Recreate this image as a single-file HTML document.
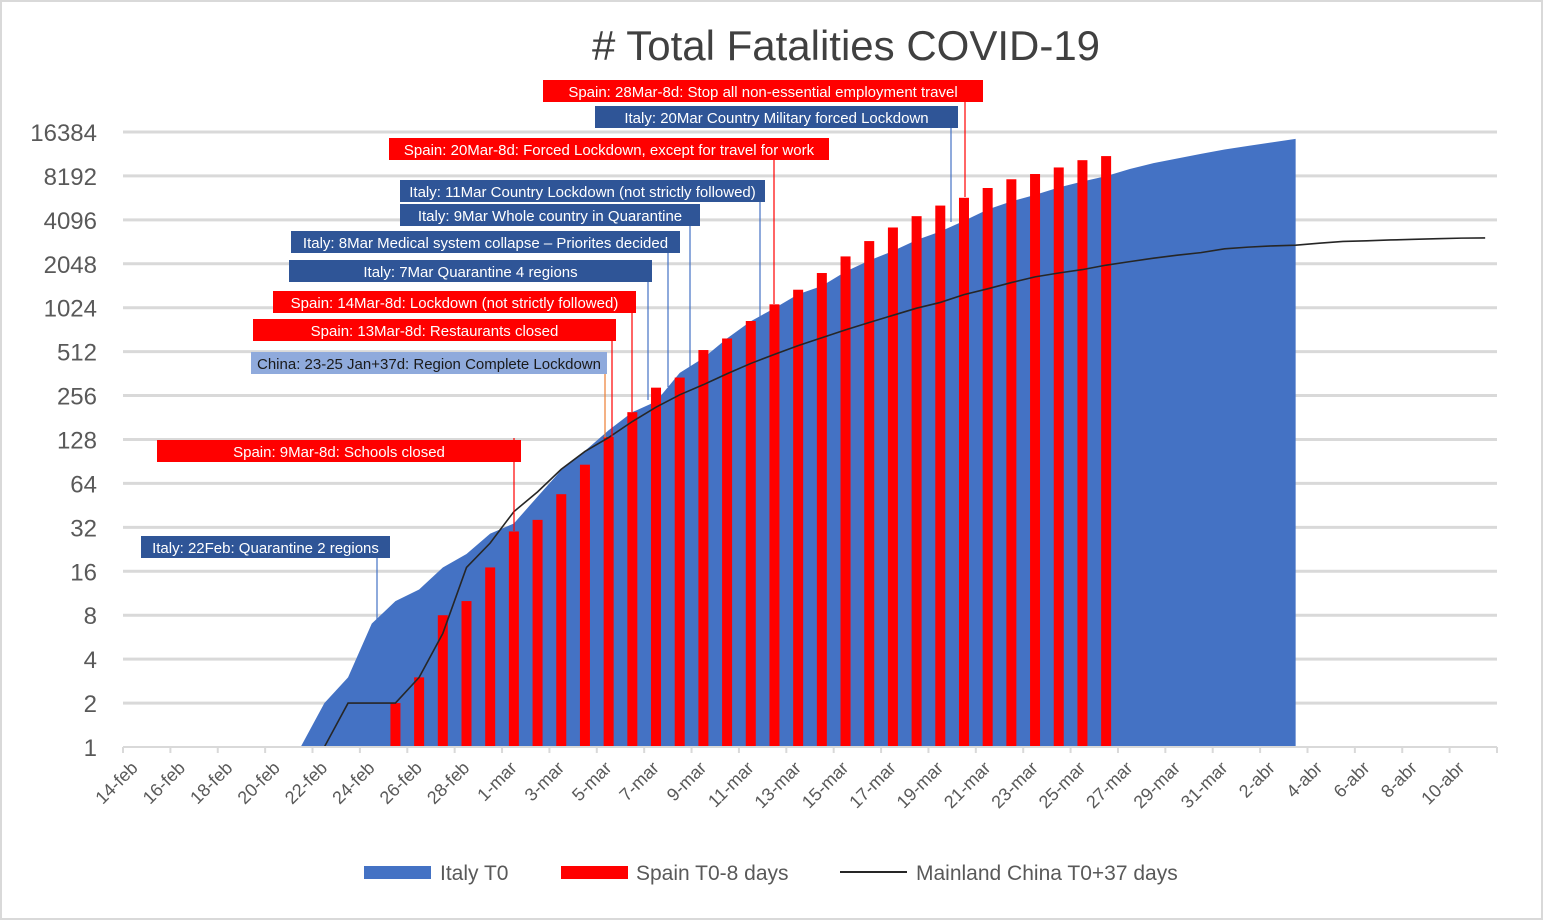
<!DOCTYPE html>
<html><head><meta charset="utf-8"><style>
body{margin:0;background:#fff;}
svg{display:block;font-family:"Liberation Sans",sans-serif;}
</style></head><body>
<svg id="c" width="1544" height="921" viewBox="0 0 1544 921">
<rect x="1" y="1" width="1541" height="918" fill="#fff" stroke="#d9d9d9" stroke-width="2"/>
<text x="846" y="60" text-anchor="middle" font-size="42" fill="#404040"># Total Fatalities COVID-19</text>
<g id="grid"></g><g id="marks"></g><g id="axes"></g><g id="ann"></g>
<g>
<g><rect x="364" y="866" width="67" height="13" fill="#4472c4"/><text x="440" y="880" font-size="21" fill="#595959">Italy T0</text></g>
<g><rect x="561" y="866" width="67" height="13" fill="#ff0000"/><text x="636" y="880" font-size="21" fill="#595959">Spain T0-8 days</text></g>
<g><line x1="840" y1="872" x2="907" y2="872" stroke="#262626" stroke-width="2"/><text x="916" y="880" font-size="21" fill="#595959">Mainland China T0+37 days</text></g>
</g>
</svg>
<script>
const NS="http://www.w3.org/2000/svg";
const categories=[];
(function(){const m=[["feb",14,29],["mar",1,31],["abr",1,11]];for(const[n,a,b]of m)for(let d=a;d<=b;d++)categories.push(d+"-"+n);})();
const yTicks=[1,2,4,8,16,32,64,128,256,512,1024,2048,4096,8192,16384];
const italyStart=7;
const italyValues=[1,2,3,7,10,12,17,21,29,34,52,79,107,148,197,233,366,463,631,827,1016,1266,1441,1809,2158,2503,2978,3405,4032,4825,5476,6077,6820,7503,8165,9134,10023,10779,11591,12428,13155,13915,14681];
const spainStart=11;
const spainValues=[2,3,8,10,17,30,36,54,86,133,197,290,340,525,630,830,1080,1360,1770,2300,2930,3630,4340,5130,5800,6770,7770,8440,9360,10500,11200];
const chinaStart=3;
const chinaValues=[1,1,1,1,1,1,2,2,2,3,6,17,25,41,56,80,106,132,170,213,259,304,361,425,490,563,637,722,811,908,1016,1113,1259,1380,1523,1665,1770,1868,2004,2118,2236,2345,2442,2592,2663,2715,2744,2835,2912,2943,2981,3012,3042,3070,3080];

const X0=123,X1=1497,Y0=747,PX=43.93;
const bw=(X1-X0)/categories.length;
const xs=i=>X0+(i+0.5)*bw;
const ys=v=>Y0-Math.log2(v)*PX;
function mk(t,a,p){const e=document.createElementNS(NS,t);for(const k in a)e.setAttribute(k,a[k]);p.appendChild(e);return e;}
const grid=document.getElementById('grid'),marks=document.getElementById('marks'),axes=document.getElementById('axes');
yTicks.forEach(v=>{
 const y=ys(v);
 if(v>1){const l=mk('line',{x1:X0,x2:X1,y1:y,y2:y,stroke:'#d9d9d9','stroke-width':3},grid);
 
 }
 const t=mk('text',{x:97,y:y+9,'text-anchor':'end','font-size':24,fill:'#595959'},axes);t.textContent=v;
 
 
});
let pts=[];italyValues.forEach((v,k)=>pts.push(xs(italyStart+k)+','+ys(v)));
const last=italyStart+italyValues.length-1;
pts.push(xs(last)+','+Y0);pts.push(xs(italyStart)+','+Y0);
const area=mk('polygon',{points:pts.join(' '),fill:'#4472c4'},marks);


spainValues.forEach((v,k)=>{const i=spainStart+k;const y=ys(v);
 const r=mk('rect',{x:xs(i)-5,y:y,width:10,height:Y0-y,fill:'#ff0000'},marks);
 
 });
const cl=mk('polyline',{points:chinaValues.map((v,k)=>xs(chinaStart+k)+','+ys(v)).join(' '),fill:'none',stroke:'#262626','stroke-width':1.6},marks);


const ax=mk('line',{x1:X0,x2:X1,y1:Y0,y2:Y0,stroke:'#d9d9d9','stroke-width':2},axes);


for(let i=0;i<=categories.length;i+=2){mk('line',{x1:X0+i*bw,x2:X0+i*bw,y1:Y0,y2:Y0+6,stroke:'#d9d9d9','stroke-width':2},axes);}
categories.forEach((c,i)=>{if(i%2)return;const x=xs(i)+4,y=Y0+22;
 const t=mk('text',{x:x,y:y,'text-anchor':'end','font-size':18,fill:'#595959',transform:`rotate(-45 ${x} ${y})`},axes);t.textContent=c;
 
 });
const RED='#ff0000',BLU='#2f5597',LB='#8faadc';
const anns=[
["Spain: 28Mar-8d: Stop all non-essential employment travel",543,80,440,RED,'#fff',965,197,RED],
["Italy: 20Mar Country Military forced Lockdown",595,106,363,BLU,'#fff',951,222,'#4472c4'],
["Spain: 20Mar-8d: Forced Lockdown, except for travel for work",389,138,440,RED,'#fff',774,304,RED],
["Italy: 11Mar Country Lockdown (not strictly followed)",400,180,365,BLU,'#fff',760,325,'#4472c4'],
["Italy: 9Mar Whole country in Quarantine",400,204,300,BLU,'#fff',690,372,'#4472c4'],
["Italy: 8Mar Medical system collapse – Priorites  decided",291,231,389,BLU,'#fff',668,387,'#4472c4'],
["Italy: 7Mar Quarantine 4 regions",289,260,363,BLU,'#fff',648,400,'#4472c4'],
["Spain: 14Mar-8d: Lockdown (not strictly followed)",273,291,363,RED,'#fff',632,412,RED],
["Spain: 13Mar-8d: Restaurants closed",253,319,363,RED,'#fff',612,438,RED],
["China: 23-25 Jan+37d: Region Complete Lockdown",251,352,356,LB,'#1a1a1a',605,438,'#ed7d31'],
["Spain: 9Mar-8d: Schools closed",157,440,364,RED,'#fff',514,531,RED],
["Italy: 22Feb: Quarantine 2 regions",141,536,249,BLU,'#fff',377,620,'#4472c4']];
const ann=document.getElementById('ann');
anns.forEach((a,k)=>{const[t,x,y,w,bg,fg,lx,ly,lc]=a;
 const g=mk('g',{},ann);
 
 
 const top=(k==10)?438:y+22;
 mk('line',{x1:lx,x2:lx,y1:top,y2:ly,stroke:lc,'stroke-width':1.2},g);
 mk('rect',{x:x,y:y,width:w,height:22,fill:bg},g);
 const tx=mk('text',{x:x+w/2,y:y+17,'text-anchor':'middle','font-size':15,fill:fg},g);tx.textContent=t;
});
</script>
</body></html>
